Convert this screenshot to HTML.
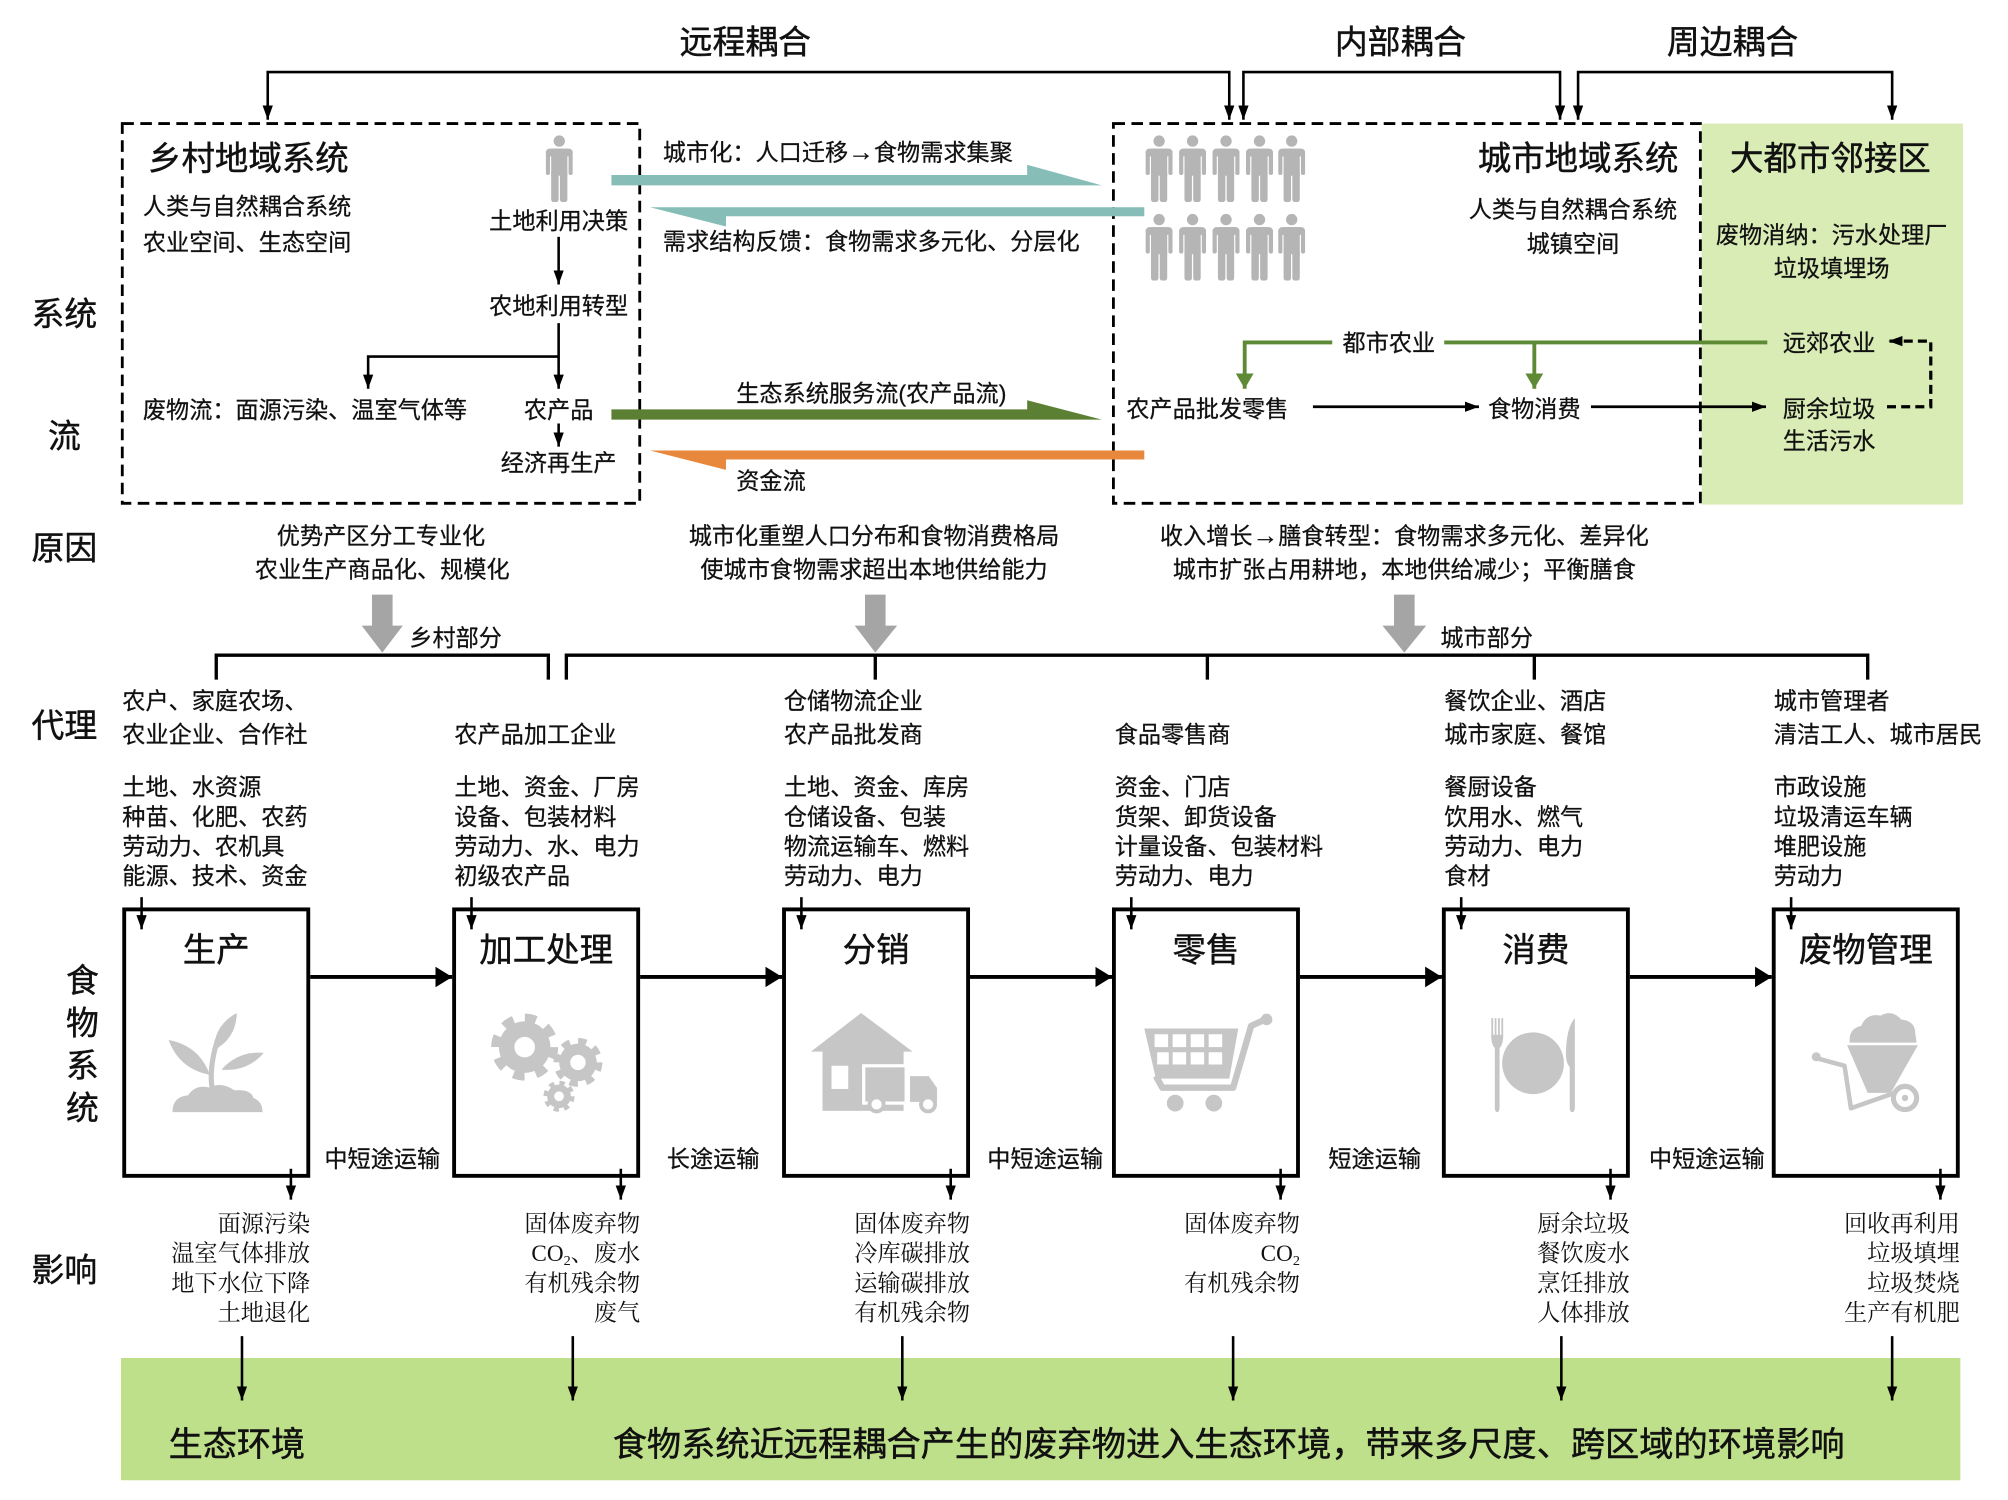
<!DOCTYPE html>
<html><head><meta charset="utf-8"><style>
html,body{margin:0;padding:0;background:#fff;}
svg{display:block;}
.s{font-family:'Liberation Sans','Noto Sans CJK SC',sans-serif;fill:#111;stroke:#111;stroke-width:0.2;}
.b{stroke-width:0.35;}
.r{font-family:'Liberation Serif','Noto Serif CJK SC',serif;fill:#111;}
.ar{font-family:'Liberation Sans',sans-serif;font-size:20px;font-weight:bold;}
</style></head><body>
<svg width="2008" height="1500" viewBox="0 0 1560 1165.34" xmlns="http://www.w3.org/2000/svg">
<defs>
<marker id="ab" viewBox="0 0 11 8" refX="11" refY="4" markerWidth="11" markerHeight="8" markerUnits="userSpaceOnUse" orient="auto-start-reverse"><path d="M0,0 L11,4 L0,8 Z" fill="#000"/></marker>
<marker id="abig" viewBox="0 0 13 16" refX="13" refY="8" markerWidth="13" markerHeight="16" markerUnits="userSpaceOnUse" orient="auto"><path d="M0,0 L13,8 L0,16 Z" fill="#000"/></marker>
<marker id="ag" viewBox="0 0 12 14" refX="12" refY="7" markerWidth="12" markerHeight="14" markerUnits="userSpaceOnUse" orient="auto"><path d="M0,0 L12,7 L0,14 Z" fill="#5e8a36"/></marker>
<symbol id="p" viewBox="0 0 21 52"><circle cx="10.5" cy="4.6" r="4.4"/><rect x="0" y="10.5" width="21" height="6" rx="3"/><rect x="0" y="12" width="3.3" height="19" rx="1.6"/><rect x="17.7" y="12" width="3.3" height="19" rx="1.6"/><rect x="4.2" y="10.5" width="12.6" height="21"/><rect x="4.2" y="28" width="5.8" height="24" rx="2"/><rect x="11" y="28" width="5.8" height="24" rx="2"/></symbol>
</defs>

<!-- top coupling labels -->
<g class="s b" font-size="25.5" text-anchor="middle">
<text x="579" y="41.7">远程耦合</text>
<text x="1088" y="41.7">内部耦合</text>
<text x="1346" y="41.7">周边耦合</text>
</g>
<g fill="none" stroke="#000" stroke-width="2">
<path d="M208,93 V56 H955 V93" marker-start="url(#ab)" marker-end="url(#ab)"/>
<path d="M966,93 V56 H1212 V93" marker-start="url(#ab)" marker-end="url(#ab)"/>
<path d="M1226,93 V56 H1470 V93" marker-start="url(#ab)" marker-end="url(#ab)"/>
</g>

<!-- green adjacent area -->
<rect x="1322" y="96" width="203" height="296" fill="#d9ecb5"/>

<!-- dashed boxes -->
<rect x="95" y="96" width="402" height="295" fill="none" stroke="#000" stroke-width="2.2" stroke-dasharray="9 5"/>
<rect x="865" y="96" width="456" height="295" fill="none" stroke="#000" stroke-width="2.2" stroke-dasharray="9 5"/>

<!-- left labels -->
<g class="s b" font-size="25.5" text-anchor="middle">
<text x="50" y="252.7">系统</text>
<text x="50" y="347.7">流</text>
<text x="50" y="434.7">原因</text>
<text x="50" y="572.7">代理</text>
<text x="64" y="770.7">食</text>
<text x="64" y="803.7">物</text>
<text x="64" y="836.7">系</text>
<text x="64" y="869.7">统</text>
<text x="50" y="995.7">影响</text>
</g>

<!-- rural box -->
<text class="s b" font-size="26" x="115" y="132">乡村地域系统</text>
<g class="s" font-size="18">
<text x="111" y="166.8">人类与自然耦合系统</text>
<text x="111" y="194.8">农业空间、生态空间</text>
<text x="434" y="177.8" text-anchor="middle">土地利用决策</text>
<text x="434" y="243.8" text-anchor="middle">农地利用转型</text>
<text x="111" y="324.8">废物流：面源污染、温室气体等</text>
<text x="434" y="324.8" text-anchor="middle">农产品</text>
<text x="434" y="365.8" text-anchor="middle">经济再生产</text>
</g>
<g fill="#b5b5b5"><use href="#p" x="424" y="105" width="21" height="52"/></g>
<g fill="none" stroke="#000" stroke-width="2">
<path d="M434,184 V221" marker-end="url(#ab)"/>
<path d="M434,251 V302" marker-end="url(#ab)"/>
<path d="M434,277 H286 V302" marker-end="url(#ab)"/>
<path d="M434,329 V347" marker-end="url(#ab)"/>
</g>

<!-- flow arrows -->
<polygon points="475,136 798,136 798,128 856,144 475,144" fill="#86bdb7"/>
<polygon points="889,161 505,161 564,176 564,168 889,168" fill="#86bdb7"/>
<polygon points="475,318 798,318 798,311 856,326 475,326" fill="#5b8034"/>
<polygon points="889,350 505,350 564,365 564,357 889,357" fill="#e8883d"/>
<g class="s" font-size="18">
<text x="515" y="124.8">城市化：人口迁移<tspan class="ar">→</tspan>食物需求集聚</text>
<text x="515" y="193.8">需求结构反馈：食物需求多元化、分层化</text>
<text x="572" y="311.8">生态系统服务流(农产品流)</text>
<text x="572" y="379.8">资金流</text>
</g>

<!-- urban box -->
<g fill="#b5b5b5">
<use href="#p" x="890" y="105" width="21" height="52"/>
<use href="#p" x="916" y="105" width="21" height="52"/>
<use href="#p" x="942" y="105" width="21" height="52"/>
<use href="#p" x="968" y="105" width="21" height="52"/>
<use href="#p" x="993" y="105" width="21" height="52"/>
<use href="#p" x="890" y="166" width="21" height="52"/>
<use href="#p" x="916" y="166" width="21" height="52"/>
<use href="#p" x="942" y="166" width="21" height="52"/>
<use href="#p" x="968" y="166" width="21" height="52"/>
<use href="#p" x="993" y="166" width="21" height="52"/>
</g>
<text class="s b" font-size="26" x="1304" y="132" text-anchor="end">城市地域系统</text>
<text class="s b" font-size="26" x="1422" y="132" text-anchor="middle">大都市邻接区</text>
<g class="s" font-size="18">
<text x="1222" y="168.8" text-anchor="middle">人类与自然耦合系统</text>
<text x="1222" y="195.8" text-anchor="middle">城镇空间</text>
<text x="1423" y="188.8" text-anchor="middle">废物消纳：污水处理厂</text>
<text x="1423" y="214.8" text-anchor="middle">垃圾填埋场</text>
<text x="1079" y="272.8" text-anchor="middle">都市农业</text>
<text x="1385" y="272.8">远郊农业</text>
<text x="875" y="323.8">农产品批发零售</text>
<text x="1156" y="323.8">食物消费</text>
<text x="1385" y="323.8">厨余垃圾</text>
<text x="1385" y="348.8">生活污水</text>
</g>
<g fill="none" stroke="#5e8a36" stroke-width="3">
<path d="M1035,266 H967 V302" marker-end="url(#ag)"/>
<path d="M1122,266 H1373"/>
<path d="M1192,266 V302" marker-end="url(#ag)"/>
</g>
<g fill="none" stroke="#000" stroke-width="2.2">
<path d="M1020,316 H1149" marker-end="url(#ab)"/>
<path d="M1236,316 H1372" marker-end="url(#ab)"/>
<path d="M1466,316 H1500 V265 H1467" stroke-dasharray="7 4" stroke-width="2.5" marker-end="url(#ab)"/>
</g>

<!-- causes -->
<g class="s" font-size="18" text-anchor="middle">
<text x="296" y="422.8">优势产区分工专业化</text>
<text x="297" y="448.8">农业生产商品化、规模化</text>
<text x="679" y="422.8">城市化重塑人口分布和食物消费格局</text>
<text x="679" y="448.8">使城市食物需求超出本地供给能力</text>
<text x="1091" y="422.8">收入增长<tspan class="ar">→</tspan>膳食转型：食物需求多元化、差异化</text>
<text x="1091" y="448.8">城市扩张占用耕地，本地供给减少；平衡膳食</text>
</g>
<g fill="#a5a5a5">
<polygon points="289,462 305,462 305,486 313,486 297,507 281,486 289,486"/>
<polygon points="672,462 688,462 688,486 697,486 680,507 664,486 672,486"/>
<polygon points="1083,462 1099,462 1099,486 1108,486 1091,507 1074,486 1083,486"/>
</g>
<g class="s" font-size="18">
<text x="318" y="501.8">乡村部分</text>
<text x="1119" y="501.8">城市部分</text>
</g>
<g fill="none" stroke="#000" stroke-width="2.6">
<path d="M168,528 V509 H426 V528"/>
<path d="M440,528 V509 H1451 V528"/>
<path d="M680,509 V528"/>
<path d="M938,509 V528"/>
<path d="M1192,509 V528"/>
</g>

<!-- agents -->
<g class="s" font-size="18">
<text x="95" y="550.8">农户、家庭农场、</text>
<text x="95" y="576.8">农业企业、合作社</text>
<text x="353" y="576.8">农产品加工企业</text>
<text x="609" y="550.8">仓储物流企业</text>
<text x="609" y="576.8">农产品批发商</text>
<text x="866" y="576.8">食品零售商</text>
<text x="1122" y="550.8">餐饮企业、酒店</text>
<text x="1122" y="576.8">城市家庭、餐馆</text>
<text x="1378" y="550.8">城市管理者</text>
<text x="1378" y="576.8">清洁工人、城市居民</text>

<text x="95" y="617.8">土地、水资源</text>
<text x="95" y="640.8">种苗、化肥、农药</text>
<text x="95" y="663.8">劳动力、农机具</text>
<text x="95" y="686.8">能源、技术、资金</text>

<text x="353" y="617.8">土地、资金、厂房</text>
<text x="353" y="640.8">设备、包装材料</text>
<text x="353" y="663.8">劳动力、水、电力</text>
<text x="353" y="686.8">初级农产品</text>

<text x="609" y="617.8">土地、资金、库房</text>
<text x="609" y="640.8">仓储设备、包装</text>
<text x="609" y="663.8">物流运输车、燃料</text>
<text x="609" y="686.8">劳动力、电力</text>

<text x="866" y="617.8">资金、门店</text>
<text x="866" y="640.8">货架、卸货设备</text>
<text x="866" y="663.8">计量设备、包装材料</text>
<text x="866" y="686.8">劳动力、电力</text>

<text x="1122" y="617.8">餐厨设备</text>
<text x="1122" y="640.8">饮用水、燃气</text>
<text x="1122" y="663.8">劳动力、电力</text>
<text x="1122" y="686.8">食材</text>

<text x="1378" y="617.8">市政设施</text>
<text x="1378" y="640.8">垃圾清运车辆</text>
<text x="1378" y="663.8">堆肥设施</text>
<text x="1378" y="686.8">劳动力</text>
</g>

<!-- food system boxes -->
<g fill="none" stroke="#000" stroke-width="3">
<rect x="96.5" y="706.5" width="143" height="207"/>
<rect x="352.8" y="706.5" width="143" height="207"/>
<rect x="609.1" y="706.5" width="143" height="207"/>
<rect x="865.4" y="706.5" width="143" height="207"/>
<rect x="1121.7" y="706.5" width="143" height="207"/>
<rect x="1378" y="706.5" width="143" height="207"/>
</g>
<g class="s b" font-size="26" text-anchor="middle">
<text x="168" y="746.9">生产</text>
<text x="424.3" y="746.9">加工处理</text>
<text x="680.6" y="746.9">分销</text>
<text x="936.9" y="746.9">零售</text>
<text x="1193.2" y="746.9">消费</text>
<text x="1449.5" y="746.9">废物管理</text>
</g>
<g fill="none" stroke="#000" stroke-width="3">
<path d="M241,759 H351.3" marker-end="url(#abig)"/>
<path d="M497.3,759 H607.6" marker-end="url(#abig)"/>
<path d="M753.6,759 H863.9" marker-end="url(#abig)"/>
<path d="M1009.9,759 H1120.2" marker-end="url(#abig)"/>
<path d="M1266.2,759 H1376.5" marker-end="url(#abig)"/>
</g>
<g fill="none" stroke="#000" stroke-width="2">
<path d="M110,697 V722" marker-end="url(#ab)"/>
<path d="M366.3,697 V722" marker-end="url(#ab)"/>
<path d="M622.6,697 V722" marker-end="url(#ab)"/>
<path d="M878.9,697 V722" marker-end="url(#ab)"/>
<path d="M1135.2,697 V722" marker-end="url(#ab)"/>
<path d="M1391.5,697 V722" marker-end="url(#ab)"/>
<path d="M226,908 V932" marker-end="url(#ab)"/>
<path d="M482.3,908 V932" marker-end="url(#ab)"/>
<path d="M738.6,908 V932" marker-end="url(#ab)"/>
<path d="M994.9,908 V932" marker-end="url(#ab)"/>
<path d="M1251.2,908 V932" marker-end="url(#ab)"/>
<path d="M1507.5,908 V932" marker-end="url(#ab)"/>
</g>
<g class="s" font-size="18" text-anchor="middle">
<text x="297" y="906.8">中短途运输</text>
<text x="554" y="906.8">长途运输</text>
<text x="812" y="906.8">中短途运输</text>
<text x="1068" y="906.8">短途运输</text>
<text x="1326" y="906.8">中短途运输</text>
</g>

<!-- icons -->
<g fill="#c6c6c6">
<!-- plant -->
<path d="M134,864 Q134,852 146,851 Q152,842 163,845 Q172,840 182,847 Q195,846 197,853 Q204,856 204,864 Z"/>
<path d="M166,816 Q166.5,796.2 184,787 Q183.5,806.8 166,816 Z"/>
<path d="M163,835 Q154.7,812.4 131,808 Q139.3,830.6 163,835 Z"/>
<path d="M172,831 Q185.2,816.1 205,818 Q191.8,832.9 172,831 Z"/>
<path d="M165,847 Q162,830 169,808" fill="none" stroke="#c6c6c6" stroke-width="4"/>
<!-- gears -->
<circle cx="407.6" cy="813.5" r="20"/>
<circle cx="407.6" cy="813.5" r="22.5" fill="none" stroke="#c6c6c6" stroke-width="7" stroke-dasharray="8.8 8.87"/>
<circle cx="449" cy="825.4" r="14.6"/>
<circle cx="449" cy="825.4" r="16.5" fill="none" stroke="#c6c6c6" stroke-width="5" stroke-dasharray="6.5 6.46"/>
<circle cx="434.3" cy="851.7" r="9.2"/>
<circle cx="434.3" cy="851.7" r="10.4" fill="none" stroke="#c6c6c6" stroke-width="3.4" stroke-dasharray="4.1 4.07"/>
<circle cx="407.6" cy="813.5" r="8" fill="#fff"/>
<circle cx="449" cy="825.4" r="6" fill="#fff"/>
<circle cx="434.3" cy="851.7" r="3.8" fill="#fff"/>
<!-- warehouse + truck -->
<polygon points="630,817 669,787 709,817"/>
<rect x="639" y="815" width="63" height="48"/>
<rect x="646" y="828" width="13" height="18" fill="#fff"/>
<rect x="671" y="828" width="33" height="29" stroke="#fff" stroke-width="2.5"/>
<path d="M706,835 H722 L729,845 V857 H706 Z" stroke="#fff" stroke-width="2"/>
<circle cx="681" cy="858" r="5.5" fill="#fff" stroke="#c6c6c6" stroke-width="3"/>
<circle cx="721" cy="858" r="5.5" fill="#fff" stroke="#c6c6c6" stroke-width="3"/>
<!-- cart -->
<path d="M889,799 H962 L955,838 H898 Z"/>
<g fill="#fff">
<rect x="897" y="803.5" width="10.5" height="10"/><rect x="911" y="803.5" width="10.5" height="10"/><rect x="925" y="803.5" width="10.5" height="10"/><rect x="939" y="803.5" width="10.5" height="10"/>
<rect x="899" y="817.5" width="9" height="9.5"/><rect x="911" y="817.5" width="10.5" height="9.5"/><rect x="925" y="817.5" width="10.5" height="9.5"/><rect x="939" y="817.5" width="10.5" height="9.5"/>
</g>
<path d="M898,836 L903,845 H958 L972,797 L983,792" fill="none" stroke="#c6c6c6" stroke-width="5" stroke-linejoin="round"/>
<circle cx="984" cy="792" r="4.5"/>
<circle cx="913" cy="857" r="6.5"/>
<circle cx="943" cy="857" r="6.5"/>
<!-- plate -->
<circle cx="1191" cy="826" r="24"/>
<rect x="1158.6" y="791" width="1.4" height="15"/><rect x="1161.2" y="791" width="1.4" height="15"/><rect x="1163.8" y="791" width="1.4" height="15"/><rect x="1166.4" y="791" width="1.4" height="15"/>
<path d="M1158.5,804 H1167.8 Q1167.8,812 1165,814 V860 Q1165,864 1163.2,864 Q1161.3,864 1161.3,860 V814 Q1158.5,812 1158.5,804 Z"/>
<path d="M1223.5,791 Q1217,798 1216.5,818 Q1216.5,826 1219.5,829 V860 Q1219.5,864 1221.5,864 Q1223.5,864 1223.5,860 Z"/>
<!-- wheelbarrow -->
<path d="M1437,810 Q1436,799 1446,797 Q1450,787 1461,789 Q1470,784 1477,792 Q1488,793 1488,803 L1489,810 Z"/>
<polygon points="1435,812 1490,812 1469,849 1451,849"/>
<path d="M1411,822 L1433,828 L1438,861 L1472,849" fill="none" stroke="#c6c6c6" stroke-width="3.5" stroke-linejoin="round"/>
<circle cx="1411" cy="821" r="3.5"/>
<circle cx="1480" cy="853" r="9" fill="none" stroke="#c6c6c6" stroke-width="4"/>
<circle cx="1480" cy="853" r="2.5"/>
</g>

<!-- impacts -->
<g class="r" font-size="18" text-anchor="end">
<text x="241" y="956.8">面源污染</text>
<text x="241" y="979.8">温室气体排放</text>
<text x="241" y="1002.8">地下水位下降</text>
<text x="241" y="1025.8">土地退化</text>

<text x="497.3" y="956.8">固体废弃物</text>
<text x="497.3" y="979.8">CO<tspan font-size="11" dy="3">2</tspan><tspan dy="-3">、废水</tspan></text>
<text x="497.3" y="1002.8">有机残余物</text>
<text x="497.3" y="1025.8">废气</text>

<text x="753.6" y="956.8">固体废弃物</text>
<text x="753.6" y="979.8">冷库碳排放</text>
<text x="753.6" y="1002.8">运输碳排放</text>
<text x="753.6" y="1025.8">有机残余物</text>

<text x="1009.9" y="956.8">固体废弃物</text>
<text x="1009.9" y="979.8">CO<tspan font-size="11" dy="3">2</tspan></text>
<text x="1009.9" y="1002.8">有机残余物</text>

<text x="1266.2" y="956.8">厨余垃圾</text>
<text x="1266.2" y="979.8">餐饮废水</text>
<text x="1266.2" y="1002.8">烹饪排放</text>
<text x="1266.2" y="1025.8">人体排放</text>

<text x="1522.5" y="956.8">回收再利用</text>
<text x="1522.5" y="979.8">垃圾填埋</text>
<text x="1522.5" y="1002.8">垃圾焚烧</text>
<text x="1522.5" y="1025.8">生产有机肥</text>
</g>

<!-- bottom bar -->
<rect x="94" y="1055" width="1429" height="95" fill="#bfe08a"/>
<g fill="none" stroke="#000" stroke-width="2">
<path d="M188,1038 V1088" marker-end="url(#ab)"/>
<path d="M445,1038 V1088" marker-end="url(#ab)"/>
<path d="M701,1038 V1088" marker-end="url(#ab)"/>
<path d="M958,1038 V1088" marker-end="url(#ab)"/>
<path d="M1213,1038 V1088" marker-end="url(#ab)"/>
<path d="M1470,1038 V1088" marker-end="url(#ab)"/>
</g>
<text class="s b" font-size="26.5" x="131" y="1131">生态环境</text>
<text class="s b" font-size="26.6" x="476" y="1131">食物系统近远程耦合产生的废弃物进入生态环境，带来多尺度、跨区域的环境影响</text>
</svg>
</body></html>
